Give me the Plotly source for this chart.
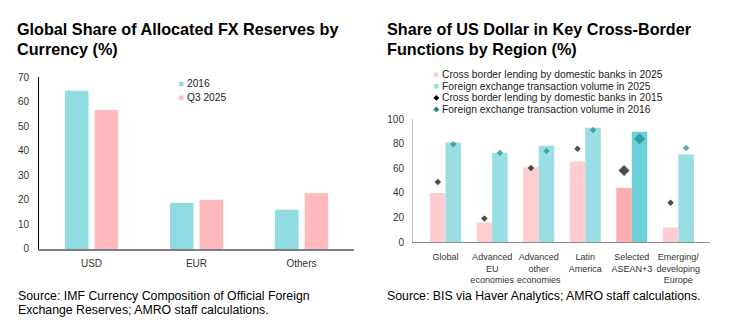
import plotly.graph_objects as go

W, H = 737, 336

# ---------------- Data ----------------
# Left chart: Global share of allocated FX reserves by currency (%)
currencies = ["USD", "EUR", "Others"]
share_2016 = [64.5, 18.8, 16.0]
share_q3_2025 = [56.7, 20.1, 22.7]
left_series_names = ["2016", "Q3 2025"]
left_yticks = [0, 10, 20, 30, 40, 50, 60, 70]

# Right chart: Share of US dollar in key cross-border functions by region (%)
regions = ["Global", "Advanced<br>EU<br>economies", "Advanced<br>other<br>economies",
           "Latin<br>America", "Selected<br>ASEAN+3", "Emerging/<br>developing<br>Europe"]
lending_2025 = [40.0, 16.0, 61.0, 65.5, 44.0, 12.0]
fx_volume_2025 = [81.0, 72.6, 78.3, 93.0, 89.8, 71.3]
lending_2015 = [49.0, 19.3, 60.3, 76.0, 58.2, 32.1]
fx_volume_2016 = [79.5, 72.6, 74.2, 91.1, 84.1, 76.5]
right_series_names = ["Cross border lending by domestic banks in 2025",
                      "Foreign exchange transaction volume in 2025",
                      "Cross border lending by domestic banks in 2015",
                      "Foreign exchange transaction volume in 2016"]
right_yticks = [0, 20, 40, 60, 80, 100]
highlight_region = "Selected<br>ASEAN+3"

titles = ["Global Share of Allocated FX Reserves by", "Currency (%)",
          "Share of US Dollar in Key Cross-Border", "Functions by Region (%)"]
sources = ["Source: IMF Currency Composition of Official Foreign",
           "Exchange Reserves; AMRO staff calculations.",
           "Source: BIS via Haver Analytics; AMRO staff calculations."]

# ---------------- Styles ----------------
FONT = "Liberation Sans, Arial, sans-serif"
TEAL = "#8EDCE2"
PINK = "#FFB8BB"
R_PINK = "#FFCDD0"
R_TEAL = "#99DEE4"
R_PINK_HI = "#FFADB1"
R_TEAL_HI = "#6DCFD7"
DIA_BLACK = "#000000"
DIA_TEAL = "#178A87"

def px_x(p):
    return p / W

def px_y(p):
    return 1 - p / H

fig = go.Figure()

# Left chart bars
fig.add_trace(go.Bar(x=currencies, y=share_2016, name=left_series_names[0],
                     marker=dict(color=TEAL, line=dict(width=0)),
                     width=0.224, offset=-0.252, xaxis="x", yaxis="y",
                     showlegend=False))
fig.add_trace(go.Bar(x=currencies, y=share_q3_2025, name=left_series_names[1],
                     marker=dict(color=PINK, line=dict(width=0)),
                     width=0.224, offset=0.03, xaxis="x", yaxis="y",
                     showlegend=False))

# Right chart
idx = list(range(len(regions)))
is_hi = [r == highlight_region for r in regions]
pink_cols = [R_PINK_HI if h else R_PINK for h in is_hi]
teal_cols = [R_TEAL_HI if h else R_TEAL for h in is_hi]
dia_sizes = [8.5 if h else 5 for h in is_hi]
bw = 0.333

fig.add_trace(go.Bar(x=idx, y=lending_2025, name=right_series_names[0],
                     marker=dict(color=pink_cols, line=dict(width=0)),
                     width=bw, offset=-bw, xaxis="x2", yaxis="y2", showlegend=False))
fig.add_trace(go.Bar(x=idx, y=fx_volume_2025, name=right_series_names[1],
                     marker=dict(color=teal_cols, line=dict(width=0)),
                     width=bw, offset=0, xaxis="x2", yaxis="y2", showlegend=False))
fig.add_trace(go.Scatter(x=[i - bw / 2 for i in idx], y=lending_2015, mode="markers",
                         name=right_series_names[2],
                         marker=dict(symbol="diamond", color=DIA_BLACK, size=dia_sizes,
                                     line=dict(width=0)),
                         xaxis="x2", yaxis="y2", showlegend=False))
fig.add_trace(go.Scatter(x=[i + bw / 2 for i in idx], y=fx_volume_2016, mode="markers",
                         name=right_series_names[3],
                         marker=dict(symbol="diamond", color=DIA_TEAL, size=dia_sizes,
                                     line=dict(width=0)),
                         xaxis="x2", yaxis="y2", showlegend=False))

annotations = []
shapes = []

# Titles
for i, t in enumerate(titles):
    x0 = 15 if i < 2 else 385
    yc = 23.5 if i % 2 == 0 else 44.5
    annotations.append(dict(text="<b>%s</b>" % t, x=px_x(x0), y=px_y(yc), xref="paper", yref="paper",
                            xanchor="left", yanchor="middle", showarrow=False,
                            font=dict(family=FONT, size=16.2, color="#000000")))
# Sources
src_pos = [(16, 300.5), (16, 315.5), (385, 300.5)]
for s, (x0, yc) in zip(sources, src_pos):
    annotations.append(dict(text=s, x=px_x(x0), y=px_y(yc), xref="paper", yref="paper",
                            xanchor="left", yanchor="middle", showarrow=False,
                            font=dict(family=FONT, size=12.3, color="#000000")))

# Left legend
left_leg = [(left_series_names[0], TEAL, 80.7), (left_series_names[1], PINK, 95)]
for name, col, yc in left_leg:
    shapes.append(dict(type="rect", xref="paper", yref="paper",
                       x0=px_x(179), x1=px_x(183.5), y0=px_y(yc + 2.3), y1=px_y(yc - 2.3),
                       fillcolor=col, line=dict(width=0)))
    annotations.append(dict(text=name, x=px_x(185), y=px_y(yc), xref="paper", yref="paper",
                            xanchor="left", yanchor="middle", showarrow=False,
                            font=dict(family=FONT, size=10.2, color="#222222")))

# Right legend
right_leg = [(right_series_names[0], R_PINK, "sq", 71.3),
             (right_series_names[1], R_TEAL, "sq", 83.3),
             (right_series_names[2], DIA_BLACK, "dia", 95.3),
             (right_series_names[3], DIA_TEAL, "dia", 107.3)]
for name, col, kind, yc in right_leg:
    cx = 436.3
    if kind == "sq":
        shapes.append(dict(type="rect", xref="paper", yref="paper",
                           x0=px_x(cx - 2.3), x1=px_x(cx + 2.3), y0=px_y(yc + 2.3), y1=px_y(yc - 2.3),
                           fillcolor=col, line=dict(width=0)))
    else:
        r = 3
        path = "M %f %f L %f %f L %f %f L %f %f Z" % (
            px_x(cx), px_y(yc - r), px_x(cx + r), px_y(yc),
            px_x(cx), px_y(yc + r), px_x(cx - r), px_y(yc))
        shapes.append(dict(type="path", xref="paper", yref="paper", path=path,
                           fillcolor=col, line=dict(width=0)))
    annotations.append(dict(text=name, x=px_x(441), y=px_y(yc), xref="paper", yref="paper",
                            xanchor="left", yanchor="middle", showarrow=False, borderpad=0,
                            font=dict(family=FONT, size=10.3, color="#222222")))

tick_font = dict(family=FONT, size=10, color="#333333")

fig.update_layout(
    width=W, height=H,
    margin=dict(l=0, r=0, t=0, b=0),
    paper_bgcolor="white", plot_bgcolor="white",
    barmode="overlay",
    showlegend=False,
    annotations=annotations,
    shapes=shapes,
    xaxis=dict(domain=[px_x(39), px_x(354)], range=[-0.5, 2.5], type="category",
               showgrid=False, zeroline=False, showline=True, linecolor="#7F7F7F", linewidth=1.5,
               ticks="", tickfont=tick_font, ticklabelstandoff=4, fixedrange=True),
    yaxis=dict(domain=[px_y(252), px_y(74)], range=[0, 70], tickvals=left_yticks,
               showgrid=False, zeroline=False, showline=True, linecolor="#000000", linewidth=1,
               ticks="", tickfont=tick_font, ticklabelstandoff=7, fixedrange=True),
    xaxis2=dict(domain=[px_x(413), px_x(710)], range=[-0.7, 5.68], anchor="y2",
                tickvals=idx, ticktext=regions,
                showgrid=False, zeroline=False, showline=True, linecolor="#8C8C8C", linewidth=1,
                ticks="", tickfont=dict(family=FONT, size=9, color="#333333"),
                ticklabelstandoff=6, fixedrange=True),
    yaxis2=dict(domain=[px_y(245), px_y(117.3)], range=[0, 100], tickvals=right_yticks, anchor="x2",
                showgrid=False, zeroline=False, showline=True, linecolor="#BFBFBF", linewidth=1,
                ticks="", tickfont=tick_font, ticklabelstandoff=6, fixedrange=True),
)

fig.write_html("out.html")
